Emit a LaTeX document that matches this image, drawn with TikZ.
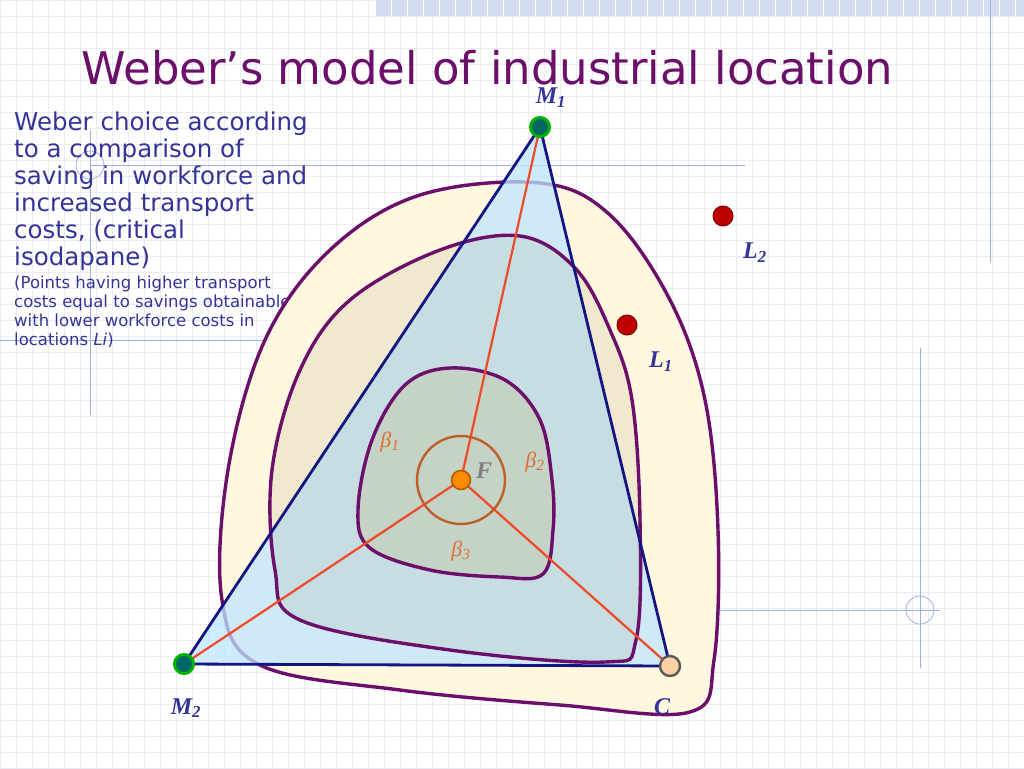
\documentclass[tikz,border=0pt]{standalone}
\usepackage{fontspec}
\setmainfont{DejaVu Sans}
\newfontfamily\lblfont{Liberation Serif}
\begin{document}
\begin{tikzpicture}[x=1pt,y=-1pt,
 lbl/.style={font=\lblfont\bfseries\itshape\fontsize{24}{24}\selectfont,text=navy},
 beta/.style={font=\lblfont\itshape\fontsize{22}{22}\selectfont,text=betac},
 iso/.style={draw=isoc,line width=3.4pt},
 ray/.style={draw=rayc,line width=2.2pt},
 deco/.style={draw=decoc,line width=0.8pt}]
\definecolor{navy}{HTML}{333399}
\definecolor{isoc}{HTML}{6B0F6B}
\definecolor{rayc}{HTML}{F04A28}
\definecolor{betac}{HTML}{E07030}
\definecolor{decoc}{HTML}{9DB0E0}
\definecolor{gridc}{HTML}{E9ECF3}
\useasboundingbox (0,0) rectangle (1024,768);
\fill[white] (0,0) rectangle (1024,768);
\foreach \i in {0,16,...,1024} \draw[gridc,line width=0.5pt] (\i,0) -- (\i,768);
\foreach \j in {0,16,...,768} \draw[gridc,line width=0.5pt] (0,\j) -- (1024,\j);
\fill[decoc!45] (375,0) rectangle (1024,16);
\foreach \i in {375,391,...,1024} \draw[white,line width=1pt] (\i,0) -- (\i,16);
\draw[deco] (90,165) -- (745,165);
\draw[deco] (90,130) -- (90,415);
\draw[deco] (0,340) -- (310,340);
\draw[deco] (990,0) -- (990,262);
\draw[deco] (920,348) -- (920,668);
\draw[deco] (610,610) -- (940,610);
\draw[deco] (920,610) circle (14);
\draw[deco] (90,165) circle (14);
\node[font=\fontsize{45}{45}\selectfont,text=isoc,anchor=west] (title) at (78,68) {Weber’s model of industrial location};
\node[anchor=north west,align=left,text=navy,inner sep=0pt,font=\fontsize{24.5}{27}\selectfont] (txt) at (14,112)
 {Weber choice according\\to a comparison of\\saving in workforce and\\increased transport\\costs, (critical\\isodapane)};
\node[anchor=north west,align=left,text=navy,inner sep=0pt,font=\fontsize{16.5}{19}\selectfont] (txt2) at (14,276)
 {(Points having higher transport\\costs equal to savings obtainable\\with lower workforce costs in\\locations \textit{Li})};
\coordinate (M1) at (540,127);
\coordinate (M2) at (184,664);
\coordinate (C) at (670,666);
\coordinate (F) at (461,480);
\filldraw[iso,fill=yellow!60!orange!12] plot[smooth cycle,tension=0.6] coordinates {(540,183)(610,215)(670,300)(705,400)(718,530)(714,660)(690,712)(560,705)(400,690)(260,665)(222,600)(228,470)(265,340)(330,250)(420,195)};
\fill[blue!40!cyan!25,opacity=0.75] (M1) -- (M2) -- (C) -- cycle;
\filldraw[iso,fill=olive!40!gray,fill opacity=0.12] plot[smooth cycle,tension=0.6] coordinates {(520,236)(575,268)(610,330)(632,400)(640,520)(636,640)(605,662)(450,650)(300,620)(275,570)(272,470)(300,370)(350,300)(440,250)};
\filldraw[iso,fill=olive!60!orange,fill opacity=0.12] plot[smooth cycle,tension=0.6] coordinates {(450,368)(505,380)(540,420)(552,480)(553,530)(543,574)(500,577)(430,570)(370,548)(358,510)(372,440)(405,385)};
\draw[draw={rgb,255:red,20;green,20;blue,130},line width=2.8pt,line join=round] (M1) -- (M2) -- (C) -- cycle;
\draw[ray] (F) -- (M1); \draw[ray] (F) -- (M2); \draw[ray] (F) -- (C);
\draw[betac!85!black,line width=2.4pt] (F) circle (44);
\node[circle,fill=teal!80!black,draw=green!70!black,line width=3pt,minimum size=19pt,inner sep=0] (m1) at (M1) {};
\node[circle,fill=teal!80!black,draw=green!70!black,line width=3pt,minimum size=19pt,inner sep=0] (m2) at (M2) {};
\node[circle,fill=orange!35,draw=gray!70!black,line width=2.4pt,minimum size=20pt,inner sep=0] (c) at (C) {};
\node[circle,fill=orange!90!yellow,draw=orange!70!black,line width=1.5pt,minimum size=19pt,inner sep=0] (f) at (F) {};
\node[circle,fill=red!75!black,draw=red!50!black,line width=1pt,minimum size=20pt,inner sep=0] (l1) at (627,325) {};
\node[circle,fill=red!75!black,draw=red!50!black,line width=1pt,minimum size=20pt,inner sep=0] (l2) at (723,216) {};
\node[lbl] at (551,98) {M\textsubscript{1}};
\node[lbl] at (186,708) {M\textsubscript{2}};
\node[lbl] at (662,707) {C};
\node[lbl] at (661,362) {L\textsubscript{1}};
\node[lbl] at (755,253) {L\textsubscript{2}};
\node[lbl,text=gray] at (484,471) {F};
\node[beta] at (390,442) {β\textsubscript{1}};
\node[beta] at (535,462) {β\textsubscript{2}};
\node[beta] at (461,551) {β\textsubscript{3}};
\end{tikzpicture}
\end{document}
